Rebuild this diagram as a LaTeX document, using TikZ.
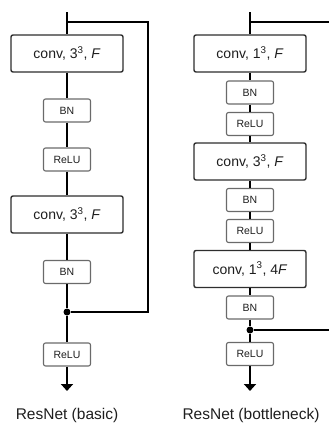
\documentclass[tikz,border=0pt]{standalone}
\usepackage{fontspec}
\setmainfont{Liberation Sans}
\usetikzlibrary{arrows.meta}
\definecolor{ink}{HTML}{1E1E1E}
\definecolor{boxline}{HTML}{2E2E2E}
\definecolor{smallline}{HTML}{6A6A6A}
\tikzset{
  convbox/.style={draw=boxline, line width=1.4pt, rounded corners=2pt,
    minimum width=112pt, minimum height=37pt, inner sep=0pt,
    font=\fontsize{14}{16}\selectfont, text=ink, fill=white},
  opbox/.style={draw=smallline, line width=1.1pt, rounded corners=2pt,
    minimum width=47pt, minimum height=23pt, inner sep=0pt,
    font=\fontsize{10.5}{12}\selectfont, text=ink, fill=white},
  flow/.style={line width=2.3pt, black},
  outflow/.style={flow, -{Triangle[width=12pt,length=7pt]}},
  junction/.style={circle, fill=black, inner sep=0pt, minimum size=7pt},
  caption/.style={font=\fontsize{15.5}{18}\selectfont, text=ink},
}
\begin{document}
\begin{tikzpicture}[x=1pt,y=-1pt]
\useasboundingbox (0,0) rectangle (329,426);
\clip (0,0) rectangle (329,426);

% ---- basic residual block ----
\coordinate (Lin) at (67,12);
\coordinate (Lsplit) at (67,22);
\coordinate (Lskipa) at (148,22);
\coordinate (Lskipb) at (148,312);
\node[convbox] (Lc1) at (67,53.5) {conv, 3\textsuperscript{3}, \textit{F}};
\node[opbox] (Lb1) at (67,110.5) {BN};
\node[opbox] (Lr1) at (67,159.5) {ReLU};
\node[convbox] (Lc2) at (67,214.5) {conv, 3\textsuperscript{3}, \textit{F}};
\node[opbox] (Lb2) at (67,272) {BN};
\node[junction] (Ljoin) at (67,312) {};
\node[opbox] (Lr2) at (67,354.5) {ReLU};
\coordinate (Lout) at (67,391);

\draw[flow] (Lin) -- (Lc1);
\draw[flow] (Lc1) -- (Lb1);
\draw[flow] (Lb1) -- (Lr1);
\draw[flow] (Lr1) -- (Lc2);
\draw[flow] (Lc2) -- (Lb2);
\draw[flow] (Lb2) -- (Ljoin);
\draw[flow] (Ljoin) -- (Lr2);
\draw[outflow] (Lr2) -- (Lout);
\draw[flow] (Lsplit) -- (Lskipa) -- (Lskipb) -- (Ljoin);

\node[caption] (Lcap) at (67,415) {ResNet (basic)};

% ---- bottleneck residual block ----
\coordinate (Rin) at (250,12);
\coordinate (Rsplit) at (250,22);
\coordinate (Rskipa) at (340,22);
\coordinate (Rskipb) at (340,330);
\node[convbox] (Rc1) at (250,53.5) {conv, 1\textsuperscript{3}, \textit{F}};
\node[opbox] (Rb1) at (250,92.5) {BN};
\node[opbox] (Rr1) at (250,124) {ReLU};
\node[convbox] (Rc2) at (250,161.5) {conv, 3\textsuperscript{3}, \textit{F}};
\node[opbox] (Rb2) at (250,200) {BN};
\node[opbox] (Rr2) at (250,231) {ReLU};
\node[convbox] (Rc3) at (250,269) {conv, 1\textsuperscript{3}, 4\textit{F}};
\node[opbox] (Rb3) at (250,307.5) {BN};
\node[junction] (Rjoin) at (250,330) {};
\node[opbox] (Rr3) at (250,354) {ReLU};
\coordinate (Rout) at (250,391);

\draw[flow] (Rin) -- (Rc1);
\draw[flow] (Rc1) -- (Rb1);
\draw[flow] (Rb1) -- (Rr1);
\draw[flow] (Rr1) -- (Rc2);
\draw[flow] (Rc2) -- (Rb2);
\draw[flow] (Rb2) -- (Rr2);
\draw[flow] (Rr2) -- (Rc3);
\draw[flow] (Rc3) -- (Rb3);
\draw[flow] (Rb3) -- (Rjoin);
\draw[flow] (Rjoin) -- (Rr3);
\draw[outflow] (Rr3) -- (Rout);
\draw[flow] (Rsplit) -- (Rskipa) -- (Rskipb) -- (Rjoin);

\node[caption] (Rcap) at (251,415) {ResNet (bottleneck)};
\end{tikzpicture}
\end{document}
